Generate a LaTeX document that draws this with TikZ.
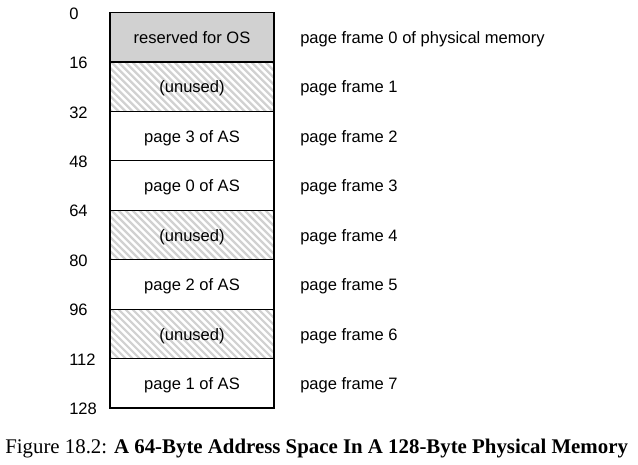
\documentclass[tikz,border=0pt]{standalone}
\usepackage{fontspec}
\setsansfont{Liberation Sans}
\newfontfamily\capfont{Liberation Serif}
\begin{document}
\begin{tikzpicture}[x=0.75pt,y=-0.75pt,
  frame/.style={draw, line width=0.9pt, minimum width=123pt, minimum height=37.08pt,
    inner sep=0pt, text height=9.4pt, text depth=0pt,
    font=\sffamily\fontsize{12.4}{14}\selectfont},
  osframe/.style={frame, fill=black!18},
  unused/.style={frame, path picture={
      \foreach \k in {-17,...,17}
        \draw[black!18, line width=1.7pt] (path picture bounding box.center)
          ++(\k*5.25pt-40pt,40pt) -- ++(80pt,-80pt);}},
  addr/.style={anchor=west, inner sep=0pt, font=\sffamily\fontsize{12.4}{14}\selectfont},
  pf/.style={anchor=west, inner sep=0pt, text height=9.4pt, text depth=0pt,
    font=\sffamily\fontsize{12.4}{14}\selectfont}]
\useasboundingbox (0,0) rectangle (638,464);
\def\hh{49.44}
\node[osframe] (r0) at (192,{12.5+0.5*\hh}) {reserved for OS};
\node[unused]  (r1) at (192,{12.5+1.5*\hh}) {(unused)};
\node[frame]   (r2) at (192,{12.5+2.5*\hh}) {page 3 of AS};
\node[frame]   (r3) at (192,{12.5+3.5*\hh}) {page 0 of AS};
\node[unused]  (r4) at (192,{12.5+4.5*\hh}) {(unused)};
\node[frame]   (r5) at (192,{12.5+5.5*\hh}) {page 2 of AS};
\node[unused]  (r6) at (192,{12.5+6.5*\hh}) {(unused)};
\node[frame]   (r7) at (192,{12.5+7.5*\hh}) {page 1 of AS};
\foreach \i/\t in {0/0 of physical memory,1/1,2/2,3/3,4/4,5/5,6/6,7/7}
  \node[pf] (p\i) at (300,{12.5+(\i+0.5)*\hh}) {page frame \t};
\foreach \i/\t in {0/0,1/16,2/32,3/48,4/64,5/80,6/96,7/112,8/128}
  \node[addr] (a\i) at (69,{13.5+\i*\hh}) {\t};
\node[anchor=base west, inner sep=0pt] (cap) at (5,453)
  {\resizebox{467pt}{!}{\capfont Figure 18.2: \textbf{A 64-Byte Address Space In A 128-Byte Physical Memory}}};
\end{tikzpicture}
\end{document}
